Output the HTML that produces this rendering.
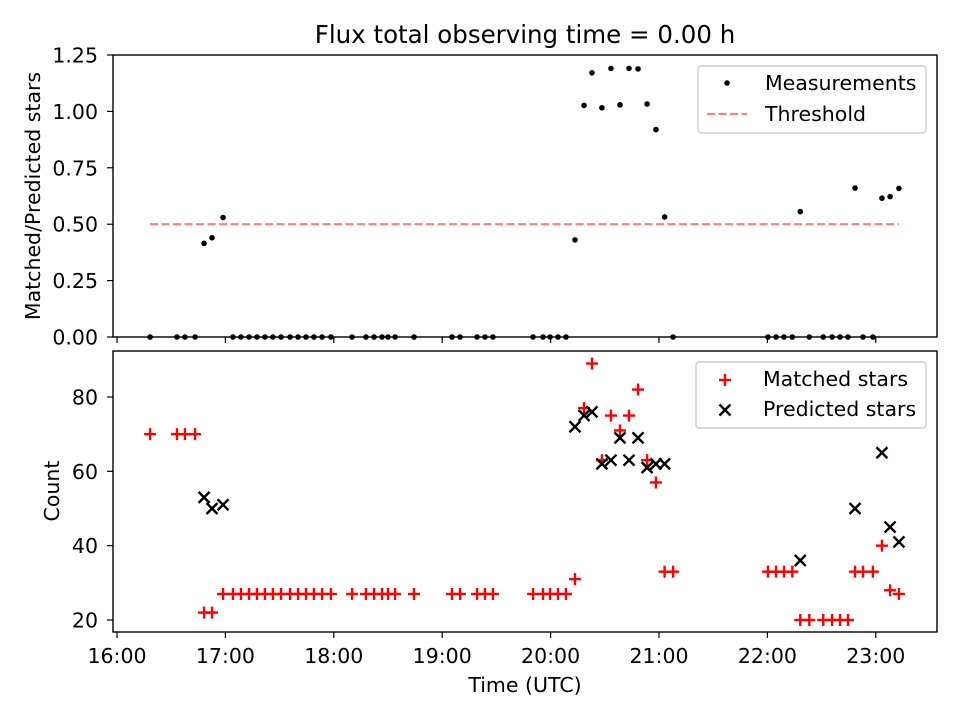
<!DOCTYPE html>
<html><head><meta charset="utf-8"><style>
body{margin:0;background:#fff}
svg text{font-family:"DejaVu Sans","Liberation Sans",sans-serif;fill:#000}
</style></head><body>
<svg id="c" width="960" height="720" xmlns="http://www.w3.org/2000/svg"></svg>
<script>
// minutes after 16:00 UTC
const timesMin=[18.3,33.2,37.6,43.2,48.2,52.6,58.7,64.2,68.6,73.1,77.5,81.9,86.3,90.8,95.8,100.2,104.6,109.0,113.5,118.4,130.1,137.8,142.3,146.7,150.0,153.9,164.4,185.4,189.9,199.3,203.7,208.1,230.3,235.8,239.7,244.1,248.5,253.5,258.5,262.9,268.4,273.4,278.4,283.4,288.4,293.4,298.3,303.1,307.8,360.3,364.8,369.2,373.8,378.2,383.2,390.9,395.8,400.2,404.6,408.5,412.9,418.4,423.4,427.9,432.8];
const matched=[70,70,70,70,22,22,27,27,27,27,27,27,27,27,27,27,27,27,27,27,27,27,27,27,27,27,27,27,27,27,27,27,27,27,27,27,27,31,77,89,63,75,71,75,82,63,57,33,33,33,33,33,33,20,20,20,20,20,20,33,33,33,40,28,27];
const predicted=[null,null,null,null,53,50,51,null,null,null,null,null,null,null,null,null,null,null,null,null,null,null,null,null,null,null,null,null,null,null,null,null,null,null,null,null,null,72,75,76,62,63,69,63,69,61,62,62,null,null,null,null,null,36,null,null,null,null,null,50,null,null,65,45,41];
const threshold=0.5;
const topTicks=[0,0.25,0.5,0.75,1.0,1.25];
const topTickLabels=["0.00","0.25","0.50","0.75","1.00","1.25"];
const botTicks=[20,40,60,80];
const xTickHours=[0,1,2,3,4,5,6,7];
const xTickLabels=["16:00","17:00","18:00","19:00","20:00","21:00","22:00","23:00"];

const NS="http://www.w3.org/2000/svg", svg=document.getElementById('c');
function el(t,a,p){const e=document.createElementNS(NS,t);for(const k in a)e.setAttribute(k,a[k]);(p||svg).appendChild(e);return e;}
const L=113,R=937,T1=55,B1=337,T2=351,B2=632;
const FS=20.5;
const X=m=>117+m/60*108.4;
const Y1=v=>337-v*225.6;
const Y2=v=>620-(v-20)*3.717;

topTicks.forEach((v,i)=>{
 const y=Y1(v);
 let t=el('line',{x1:L-6,x2:L,y1:y,y2:y,stroke:'#000','stroke-width':1.2});
 
 let tx=el('text',{x:L-15,y:y+7.5,'text-anchor':'end','font-size':FS});tx.textContent=topTickLabels[i];
 
});
botTicks.forEach(v=>{
 const y=Y2(v);
 let t=el('line',{x1:L-6,x2:L,y1:y,y2:y,stroke:'#000','stroke-width':1.2});
 
 let tx=el('text',{x:L-15,y:y+7.5,'text-anchor':'end','font-size':FS});tx.textContent=v;
 
});
xTickHours.forEach((h,i)=>{
 const x=X(h*60);
 let t=el('line',{x1:x,x2:x,y1:B1,y2:B1+6,stroke:'#000','stroke-width':1.2});
 
 let t2=el('line',{x1:x,x2:x,y1:B2,y2:B2+6,stroke:'#000','stroke-width':1.2});
 
 let tx=el('text',{x:x,y:B2+31,'text-anchor':'middle','font-size':FS});tx.textContent=xTickLabels[i];
 
});

let th=el('line',{x1:X(timesMin[0]),x2:X(timesMin[timesMin.length-1]),y1:Y1(threshold),y2:Y1(threshold),stroke:'#ff7f7f','stroke-width':2.2,'stroke-dasharray':'8,3.5'});


timesMin.forEach((m,i)=>{
 const r=predicted[i]?matched[i]/predicted[i]:0;
 let c=el('circle',{cx:X(m),cy:Y1(r),r:2.8,fill:'#000'});
 
});
function plus(x,y,col){const g=el('g',{stroke:col,'stroke-width':2.4});el('line',{x1:x-6,x2:x+6,y1:y,y2:y},g);el('line',{x1:x,x2:x,y1:y-6,y2:y+6},g);return g;}
function cross(x,y,col){const g=el('g',{stroke:col,'stroke-width':2.4});el('line',{x1:x-5.5,x2:x+5.5,y1:y-5.5,y2:y+5.5},g);el('line',{x1:x-5.5,x2:x+5.5,y1:y+5.5,y2:y-5.5},g);return g;}
timesMin.forEach((m,i)=>{
 let g=plus(X(m),Y2(matched[i]),'#ff0000');
 
});
timesMin.forEach((m,i)=>{
 if(predicted[i]==null)return;
 let g=cross(X(m),Y2(predicted[i]),'#000');
 
});

let f1=el('rect',{x:L,y:T1,width:R-L,height:B1-T1,fill:'none',stroke:'#000','stroke-width':1.4});

let f2=el('rect',{x:L,y:T2,width:R-L,height:B2-T2,fill:'none',stroke:'#000','stroke-width':1.4});


let lg1=el('g',{});
el('rect',{x:698,y:66,width:228,height:67,rx:3,fill:'#fff','fill-opacity':0.8,stroke:'#ccc','stroke-width':1.4},lg1);
el('circle',{cx:727,cy:83,r:2.8,fill:'#000'},lg1);
let a=el('text',{x:765,y:90,'font-size':FS},lg1);a.textContent='Measurements';
el('line',{x1:707,x2:747,y1:114,y2:114,stroke:'#ff7f7f','stroke-width':2.2,'stroke-dasharray':'8,3.5'},lg1);
a=el('text',{x:765,y:121,'font-size':FS},lg1);a.textContent='Threshold';

let lg2=el('g',{});
el('rect',{x:696,y:362,width:230,height:66,rx:3,fill:'#fff','fill-opacity':0.8,stroke:'#ccc','stroke-width':1.4},lg2);
lg2.appendChild(plus(725,380,'#ff0000'));
a=el('text',{x:763,y:386,'font-size':FS},lg2);a.textContent='Matched stars';
lg2.appendChild(cross(725,410,'#000'));
a=el('text',{x:763,y:416,'font-size':FS},lg2);a.textContent='Predicted stars';

a=el('text',{x:525,y:43,'text-anchor':'middle','font-size':24.5});a.textContent='Flux total observing time = 0.00 h';

a=el('text',{x:525,y:692,'text-anchor':'middle','font-size':FS});a.textContent='Time (UTC)';

a=el('text',{x:0,y:0,'text-anchor':'middle','font-size':FS,transform:'translate(40,196) rotate(-90)'});a.textContent='Matched/Predicted stars';

a=el('text',{x:0,y:0,'text-anchor':'middle','font-size':FS,transform:'translate(59,491) rotate(-90)'});a.textContent='Count';

</script>
</body></html>
